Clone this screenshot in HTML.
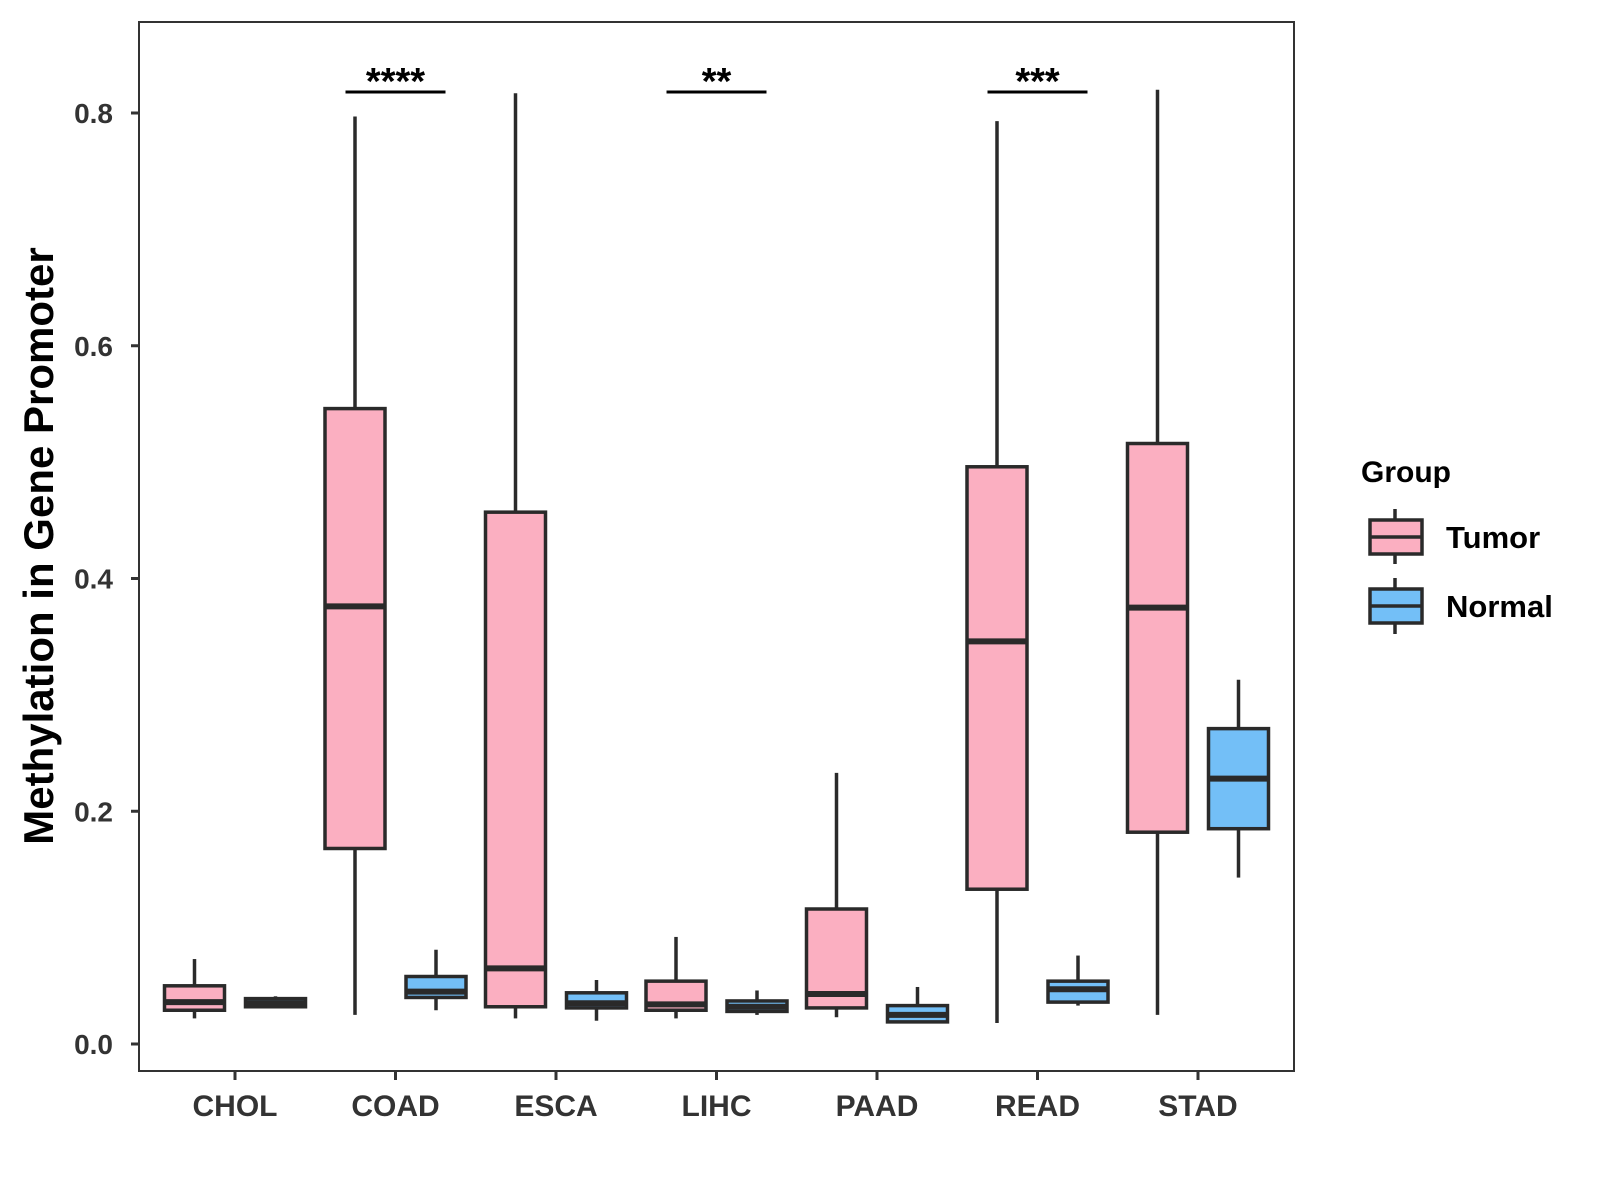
<!DOCTYPE html>
<html><head><meta charset="utf-8"><style>
html,body{margin:0;padding:0;background:#fff;}
svg{display:block;font-family:"Liberation Sans",Arial,sans-serif;}
</style></head><body>
<svg id="chart" width="1600" height="1200" viewBox="0 0 1600 1200" xmlns="http://www.w3.org/2000/svg">
<rect x="0" y="0" width="1600" height="1200" fill="#fff"/>
<g id="plot"></g>
<text transform="translate(53,546) rotate(-90)" text-anchor="middle" font-size="42" font-weight="bold" fill="#000">Methylation in Gene Promoter</text>
<g>
<text x="1361" y="482" font-size="30" font-weight="bold" fill="#000">Group</text>
<g>
<line x1="1395" y1="509" x2="1395" y2="564" stroke="#2a2a2a" stroke-width="3.5"/>
<rect x="1370" y="520" width="52" height="34" fill="#FBAFC1" stroke="#2a2a2a" stroke-width="3.5"/>
<line x1="1370" y1="537" x2="1422" y2="537" stroke="#2a2a2a" stroke-width="3.5"/>
<text x="1446" y="548" font-size="31" font-weight="bold" fill="#000">Tumor</text>
</g>
<g>
<line x1="1395" y1="578" x2="1395" y2="634" stroke="#2a2a2a" stroke-width="3.5"/>
<rect x="1370" y="589" width="52" height="34" fill="#73BFF7" stroke="#2a2a2a" stroke-width="3.5"/>
<line x1="1370" y1="606" x2="1422" y2="606" stroke="#2a2a2a" stroke-width="3.5"/>
<text x="1446" y="617" font-size="31" font-weight="bold" fill="#000">Normal</text>
</g>
</g>
</svg>
<script>
const categories = ["CHOL","COAD","ESCA","LIHC","PAAD","READ","STAD"];
// [low whisker, Q1, median, Q3, high whisker]
const tumorStats = [
 [0.022,0.029,0.036,0.050,0.073],
 [0.025,0.168,0.376,0.546,0.797],
 [0.022,0.032,0.065,0.457,0.817],
 [0.022,0.029,0.034,0.054,0.092],
 [0.023,0.031,0.043,0.116,0.233],
 [0.018,0.133,0.346,0.496,0.793],
 [0.025,0.182,0.375,0.516,0.820]
];
const normalStats = [
 [0.032,0.032,0.035,0.039,0.041],
 [0.029,0.040,0.045,0.058,0.081],
 [0.020,0.031,0.035,0.044,0.055],
 [0.025,0.028,0.032,0.037,0.046],
 [0.018,0.019,0.025,0.033,0.049],
 [0.033,0.036,0.047,0.054,0.076],
 [0.143,0.185,0.228,0.271,0.313]
];
const yTicks = [0, 0.2, 0.4, 0.6, 0.8];
const yTickLabels = ["0.0","0.2","0.4","0.6","0.8"];
const sigCategories = ["COAD","LIHC","READ"];
const sigLabels = ["****","**","***"];
const sigLevel = 0.818;

const NS = "http://www.w3.org/2000/svg";
const P = {left:139, right:1294, top:22, bottom:1071};
const yScale = v => 1044 - v * (1044 - 113) / 0.8;
const xScale = i => 235 + i * 160.5;
const g = document.getElementById('plot');
function mk(tag, attrs, parent){
  const el = document.createElementNS(NS, tag);
  for (const k in attrs) el.setAttribute(k, attrs[k]);
  (parent||g).appendChild(el);
  return el;
}
const stroke = "#2a2a2a";
const panel = mk('rect',{x:P.left,y:P.top,width:P.right-P.left,height:P.bottom-P.top,fill:'none',stroke:'#333','stroke-width':2});


yTicks.forEach((t,i)=>{
  const y = yScale(t);
  const tk = mk('line',{x1:P.left-8,x2:P.left,y1:y,y2:y,stroke:'#333','stroke-width':3});
  
  
  const lb = mk('text',{x:P.left-26,y:y+10,'text-anchor':'end','font-size':28,'font-weight':'bold',fill:'#333'});
  lb.textContent = yTickLabels[i];
  
  
});
categories.forEach((c,i)=>{
  const x = xScale(i);
  const tk = mk('line',{x1:x,x2:x,y1:P.bottom,y2:P.bottom+9,stroke:'#333','stroke-width':3});
  
  
  const lb = mk('text',{x:x,y:1116,'text-anchor':'middle','font-size':30,'font-weight':'bold',fill:'#333'});
  lb.textContent = c;
  
  
});
function drawBox(s, cx, fill, name){
  const bw = 60;
  const grp = mk('g',{});
  
  
  mk('line',{x1:cx,x2:cx,y1:yScale(s[4]),y2:yScale(s[3]),stroke:stroke,'stroke-width':3.5},grp);
  mk('line',{x1:cx,x2:cx,y1:yScale(s[1]),y2:yScale(s[0]),stroke:stroke,'stroke-width':3.5},grp);
  mk('rect',{x:cx-bw/2,y:yScale(s[3]),width:bw,height:Math.max(0.5,yScale(s[1])-yScale(s[3])),fill:fill,stroke:stroke,'stroke-width':3.5},grp);
  mk('line',{x1:cx-bw/2,x2:cx+bw/2,y1:yScale(s[2]),y2:yScale(s[2]),stroke:stroke,'stroke-width':6},grp);
}
categories.forEach((c,i)=>{
  drawBox(tumorStats[i], xScale(i)-40.5, '#FBAFC1', 'box-tumor-'+c.toLowerCase());
  drawBox(normalStats[i], xScale(i)+40.5, '#73BFF7', 'box-normal-'+c.toLowerCase());
});
sigCategories.forEach((c,k)=>{
  const i = categories.indexOf(c);
  const x = xScale(i), y = yScale(sigLevel);
  const ln = mk('line',{x1:x-50,x2:x+50,y1:y,y2:y,stroke:'#000','stroke-width':3});
  
  
  const t = mk('text',{x:x,y:y+2,'text-anchor':'middle','font-size':38,'font-weight':'bold',fill:'#000'});
  t.textContent = sigLabels[k];
  
  
});
</script>
</body></html>
